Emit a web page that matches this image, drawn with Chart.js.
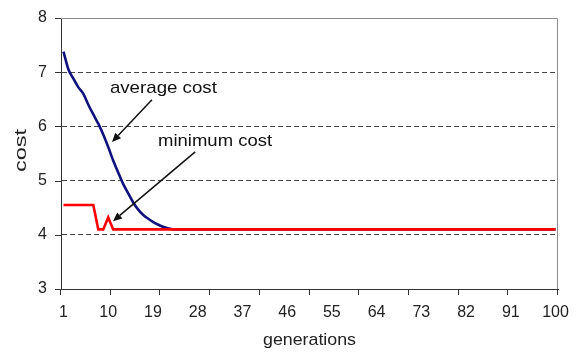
<!DOCTYPE html>
<html>
<head>
<meta charset="utf-8">
<script src="https://cdn.jsdelivr.net/npm/chart.js@4/dist/chart.umd.min.js"></script>
<style>
  html, body { margin: 0; padding: 0; background: #fff; }
  #wrap { width: 578px; height: 354px; }
</style>
</head>
<body>
<div id="wrap"><canvas id="myChart"></canvas></div>
<script>
// generations 1..100 on the x axis
const generations = Array.from({length: 100}, (_, i) => i + 1);
const xTickLabels = [1, 10, 19, 28, 37, 46, 55, 64, 73, 82, 91, 100];
const xTickMarks = [0.5, 10.5, 20.5, 30.5, 40.5, 50.5, 60.5, 70.5, 80.5, 90.5, 100.5];
const yTickLabels = [3, 4, 5, 6, 7, 8];

// values
const averageCost = [
  7.38, 7.05, 6.88, 6.72, 6.6, 6.4, 6.22, 6.05, 5.85, 5.62,
  5.37, 5.15, 4.94, 4.77, 4.6, 4.47, 4.37, 4.3, 4.24, 4.19,
  4.15, 4.12, 4.1, 4.1, 4.1, 4.1, 4.1, 4.1, 4.1, 4.1,
  4.1, 4.1, 4.1, 4.1, 4.1, 4.1, 4.1, 4.1, 4.1, 4.1,
  4.1, 4.1, 4.1, 4.1, 4.1, 4.1, 4.1, 4.1, 4.1, 4.1,
  4.1, 4.1, 4.1, 4.1, 4.1, 4.1, 4.1, 4.1, 4.1, 4.1,
  4.1, 4.1, 4.1, 4.1, 4.1, 4.1, 4.1, 4.1, 4.1, 4.1,
  4.1, 4.1, 4.1, 4.1, 4.1, 4.1, 4.1, 4.1, 4.1, 4.1,
  4.1, 4.1, 4.1, 4.1, 4.1, 4.1, 4.1, 4.1, 4.1, 4.1,
  4.1, 4.1, 4.1, 4.1, 4.1, 4.1, 4.1, 4.1, 4.1, 4.1
];
const minimumCost = [
  4.55, 4.55, 4.55, 4.55, 4.55, 4.55, 4.55, 4.1, 4.1, 4.32,
  4.1, 4.1, 4.1, 4.1, 4.1, 4.1, 4.1, 4.1, 4.1, 4.1,
  4.1, 4.1, 4.1, 4.1, 4.1, 4.1, 4.1, 4.1, 4.1, 4.1,
  4.1, 4.1, 4.1, 4.1, 4.1, 4.1, 4.1, 4.1, 4.1, 4.1,
  4.1, 4.1, 4.1, 4.1, 4.1, 4.1, 4.1, 4.1, 4.1, 4.1,
  4.1, 4.1, 4.1, 4.1, 4.1, 4.1, 4.1, 4.1, 4.1, 4.1,
  4.1, 4.1, 4.1, 4.1, 4.1, 4.1, 4.1, 4.1, 4.1, 4.1,
  4.1, 4.1, 4.1, 4.1, 4.1, 4.1, 4.1, 4.1, 4.1, 4.1,
  4.1, 4.1, 4.1, 4.1, 4.1, 4.1, 4.1, 4.1, 4.1, 4.1,
  4.1, 4.1, 4.1, 4.1, 4.1, 4.1, 4.1, 4.1, 4.1, 4.1
];

// callouts, in data units (generation, cost)
const callouts = [
  {text: 'average cost', at: [21.1, 6.62], width: 107, from: [18.8, 6.49], to: [10.76, 5.71]},
  {text: 'minimum cost', at: [31.5, 5.63], width: 114, from: [27.5, 5.53], to: [10.96, 4.25]}
];

const FONT = '"Liberation Sans", Arial, Helvetica, sans-serif';
Chart.defaults.font.family = FONT;
Chart.defaults.color = '#222';

// text squeezed/stretched to a given width
function fitText(ctx, text, x, y, width, rotate) {
  ctx.save();
  ctx.translate(x, y);
  if (rotate) ctx.rotate(-Math.PI / 2);
  const w = ctx.measureText(text).width;
  ctx.scale(width / w, 1);
  ctx.textAlign = 'center';
  ctx.textBaseline = 'alphabetic';
  ctx.fillText(text, 0, 0);
  ctx.restore();
}

const frame = {
  id: 'frame',
  beforeDatasetsDraw(chart) {
    const {ctx, chartArea: a, scales: {x, y}} = chart;
    ctx.save();
    ctx.lineWidth = 1;
    ctx.strokeStyle = '#8c8c8c';
    ctx.beginPath();
    ctx.moveTo(a.left, a.top + 0.5);
    ctx.lineTo(a.right - 0.5, a.top + 0.5);
    ctx.lineTo(a.right - 0.5, a.bottom);
    ctx.stroke();
    ctx.strokeStyle = '#333';
    ctx.beginPath();
    xTickMarks.forEach(v => {
      const px = Math.round(x.getPixelForValue(v)) - 0.5;
      ctx.moveTo(px, a.bottom);
      ctx.lineTo(px, a.bottom + 6);
    });
    yTickLabels.forEach(v => {
      const py = Math.round(y.getPixelForValue(v)) + 0.5;
      ctx.moveTo(a.left - 6, py);
      ctx.lineTo(a.left, py);
    });
    ctx.stroke();
    ctx.restore();
  },
  afterDatasetsDraw(chart) {
    const {ctx, chartArea: a, scales: {x, y}} = chart;
    ctx.save();
    ctx.fillStyle = '#111';
    ctx.strokeStyle = '#111';
    ctx.font = '17px ' + FONT;
    callouts.forEach(c => {
      fitText(ctx, c.text, x.getPixelForValue(c.at[0]), y.getPixelForValue(c.at[1]), c.width, false);
      const x1 = x.getPixelForValue(c.from[0]), y1 = y.getPixelForValue(c.from[1]);
      const x2 = x.getPixelForValue(c.to[0]), y2 = y.getPixelForValue(c.to[1]);
      const ang = Math.atan2(y2 - y1, x2 - x1);
      const head = 9, half = 4;
      const bx = x2 - head * Math.cos(ang), by = y2 - head * Math.sin(ang);
      ctx.lineWidth = 1.5;
      ctx.beginPath();
      ctx.moveTo(x1, y1);
      ctx.lineTo(bx, by);
      ctx.stroke();
      ctx.beginPath();
      ctx.moveTo(x2, y2);
      ctx.lineTo(bx + half * Math.sin(ang), by - half * Math.cos(ang));
      ctx.lineTo(bx - half * Math.sin(ang), by + half * Math.cos(ang));
      ctx.closePath();
      ctx.fill();
    });
    // axis titles, centred on the plot area
    ctx.fillStyle = '#222';
    fitText(ctx, 'generations', (a.left + a.right) / 2, 345, 93, false);
    ctx.font = '16px ' + FONT;
    fitText(ctx, 'cost', 26, (a.top + a.bottom) / 2 - 3, 43, true);
    ctx.restore();
  }
};

const ctx = document.getElementById('myChart').getContext('2d');
const myChart = new Chart(ctx, {
  type: 'line',
  data: {
    datasets: [{
      label: 'minimum cost',
      data: generations.map((g, i) => ({x: g, y: minimumCost[i]})),
      borderColor: '#ff0000',
      borderWidth: 2.6,
      pointRadius: 0,
      tension: 0
    }, {
      label: 'average cost',
      data: generations.map((g, i) => ({x: g, y: averageCost[i]})),
      borderColor: '#10107e',
      borderWidth: 2.6,
      pointRadius: 0,
      cubicInterpolationMode: 'monotone'
    }]
  },
  options: {
    responsive: true,
    maintainAspectRatio: false,
    animation: false,
    layout: {padding: {left: 0, top: 18, right: 20, bottom: 0}},
    plugins: {legend: {display: false}, tooltip: {enabled: false}},
    scales: {
      x: {
        type: 'linear',
        min: 0.5,
        max: 100.5,
        afterBuildTicks: s => { s.ticks = xTickLabels.map(v => ({value: v})); },
        afterFit: s => { s.height = 65; s.paddingLeft = 0; s.paddingRight = 0; },
        grid: {display: false, drawTicks: false},
        border: {display: true, color: '#333', width: 1},
        ticks: {autoSkip: false, maxRotation: 0, padding: 14, font: {size: 16}, color: '#222'}
      },
      y: {
        min: 3,
        max: 8,
        afterBuildTicks: s => { s.ticks = yTickLabels.map(v => ({value: v})); },
        afterFit: s => { s.width = 61; s.paddingTop = 0; s.paddingBottom = 0; },
        grid: {
          drawTicks: false,
          color: c => (c.tick && (c.tick.value === 3 || c.tick.value === 8)) ? 'rgba(0,0,0,0)' : '#444',
          lineWidth: 1
        },
        border: {display: true, color: '#333', width: 1, dash: [5, 3]},
        ticks: {padding: 14, font: {size: 16}, color: '#222'}
      }
    }
  },
  plugins: [frame]
});
</script>
</body>
</html>
